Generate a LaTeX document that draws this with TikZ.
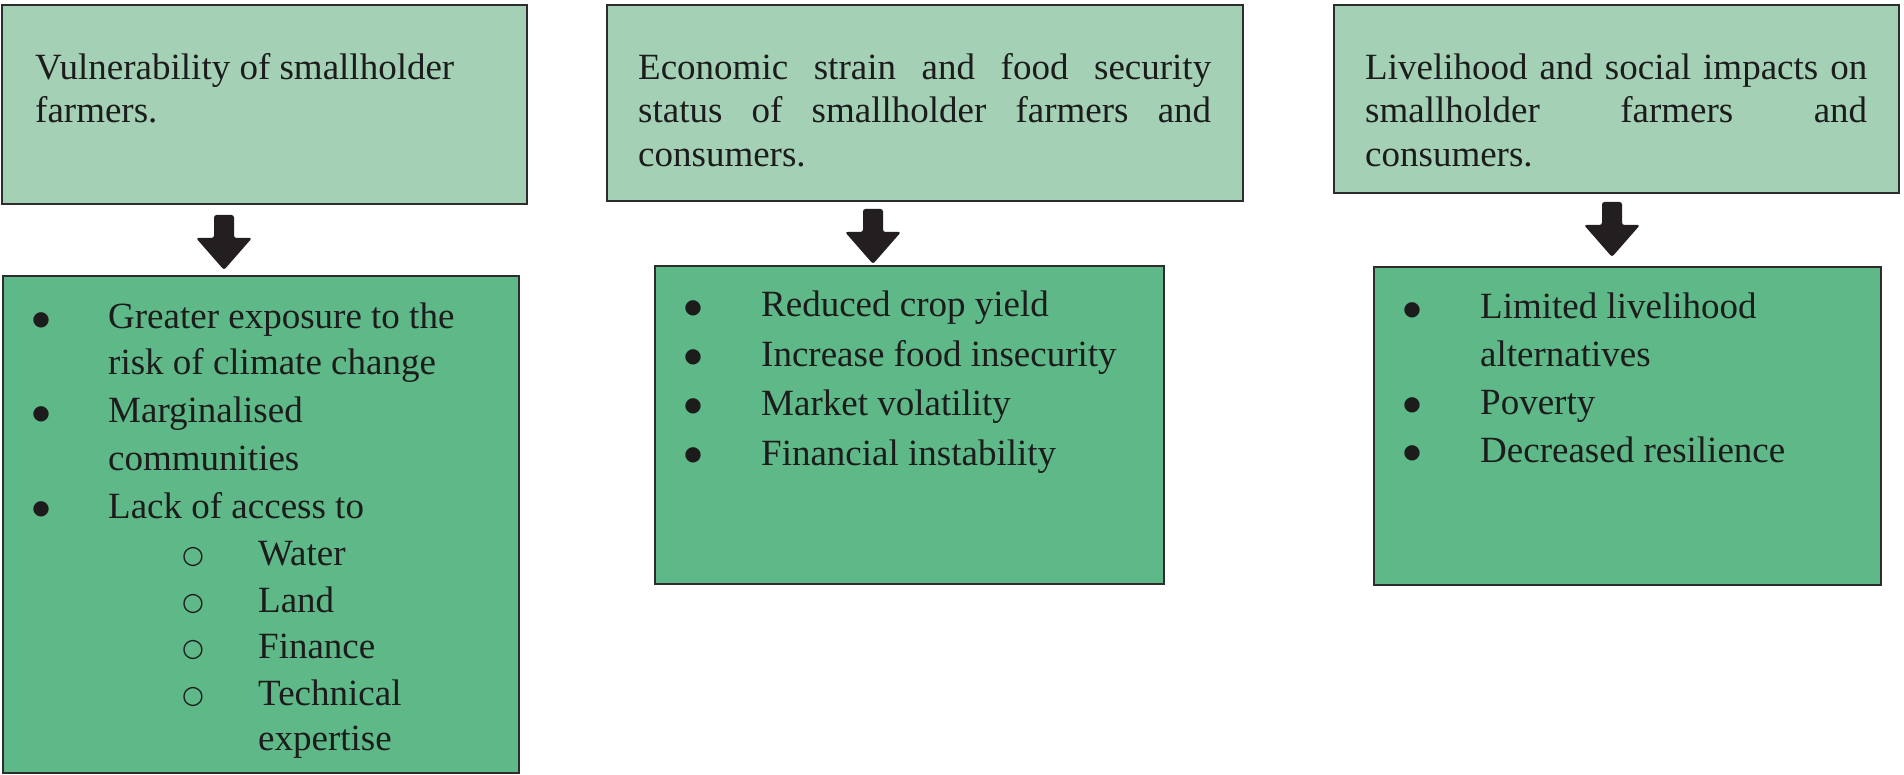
\documentclass[tikz,border=0pt]{standalone}
\usepackage{fontspec}
\setmainfont{Liberation Serif}
\newfontfamily\symfnt{DejaVu Sans}
\definecolor{topgreen}{RGB}{164,208,181}
\definecolor{botgreen}{RGB}{95,184,135}
\definecolor{edgec}{RGB}{45,45,45}
\definecolor{arrowc}{RGB}{35,31,32}
\definecolor{inkc}{RGB}{28,28,28}
\tikzset{
  topbox/.style={draw=edgec, line width=2.2pt, fill=topgreen, inner sep=0pt, anchor=north west},
  botbox/.style={draw=edgec, line width=2.2pt, fill=botgreen, inner sep=0pt, anchor=north west},
  txt/.style={inner sep=0pt, anchor=base west, text=inkc, font=\fontsize{37}{44}\selectfont},
  bul/.style={inner sep=0pt, anchor=center, text=inkc, font=\fontsize{20}{24}\symfnt},
  subbul/.style={inner sep=0pt, anchor=center, text=inkc, font=\fontsize{25}{30}\symfnt},
  blockarrow/.pic={\fill[arrowc, rounded corners=2.5pt] (-10,0) -- (10,0) -- (10,23) -- (28,23) -- (0,55) -- (-28,23) -- (-10,23) -- cycle;}
}
\begin{document}
\begin{tikzpicture}[x=1pt, y=-1pt]
\useasboundingbox (0,0) rectangle (1904,775);
\fill[white] (0,0) rectangle (1904,775);

% top boxes
\node[topbox, minimum width=525pt, minimum height=199pt] (t1) at (1,4) {};
\node[topbox, minimum width=636pt, minimum height=196pt] (t2) at (606,4) {};
\node[topbox, minimum width=565pt, minimum height=188pt] (t3) at (1333,4) {};

% bottom boxes
\node[botbox, minimum width=516pt, minimum height=497pt] (b1) at (2,275) {};
\node[botbox, minimum width=509pt, minimum height=318pt] (b2) at (654,265) {};
\node[botbox, minimum width=507pt, minimum height=318pt] (b3) at (1373,266) {};

% arrows
\pic (a1) at (224,215) {blockarrow};
\pic (a2) at (873,209) {blockarrow};
\pic (a3) at (1612,202) {blockarrow};

% top texts
\node[txt] (t1l1) at (35,80) {Vulnerability of smallholder};
\node[txt] (t1l2) at (35,123) {farmers.};

\node[txt] (t2l1) at (638,80) {\makebox[573pt][s]{Economic strain and food security}};
\node[txt] (t2l2) at (638,122.5) {\makebox[573pt][s]{status of smallholder farmers and}};
\node[txt] (t2l3) at (638,166.5) {consumers.};

\node[txt] (t3l1) at (1365,80) {\makebox[502pt][s]{Livelihood and social impacts on}};
\node[txt] (t3l2) at (1365,122.5) {\makebox[502pt][s]{smallholder farmers and}};
\node[txt] (t3l3) at (1365,166.5) {consumers.};

% bottom box 1
\node[bul] (b1b1) at (41,320) {●};
\node[txt] (b1l1) at (108,329) {Greater exposure to the};
\node[txt] (b1l2) at (108,375) {risk of climate change};
\node[bul] (b1b2) at (41,414) {●};
\node[txt] (b1l3) at (108,423) {Marginalised};
\node[txt] (b1l4) at (108,470) {communities};
\node[bul] (b1b3) at (41,509) {●};
\node[txt] (b1l5) at (108,518) {Lack of access to};
\node[subbul] (b1s1) at (193,557.5) {○};
\node[txt] (b1l6) at (258,565) {Water};
\node[subbul] (b1s2) at (193,604.5) {○};
\node[txt] (b1l7) at (258,612) {Land};
\node[subbul] (b1s3) at (193,650.5) {○};
\node[txt] (b1l8) at (258,658) {Finance};
\node[subbul] (b1s4) at (193,697.5) {○};
\node[txt] (b1l9) at (258,705) {Technical};
\node[txt] (b1l10) at (258,750) {expertise};

% bottom box 2
\node[bul] (b2b1) at (693,308) {●};
\node[txt] (b2l1) at (761,317) {Reduced crop yield};
\node[bul] (b2b2) at (693,357) {●};
\node[txt] (b2l2) at (761,367) {Increase food insecurity};
\node[bul] (b2b3) at (693,406) {●};
\node[txt] (b2l3) at (761,416) {Market volatility};
\node[bul] (b2b4) at (693,455) {●};
\node[txt] (b2l4) at (761,465) {Financial instability};

% bottom box 3
\node[bul] (b3b1) at (1412,310) {●};
\node[txt] (b3l1) at (1480,319) {Limited livelihood};
\node[txt] (b3l2) at (1480,367) {alternatives};
\node[bul] (b3b2) at (1412,405) {●};
\node[txt] (b3l3) at (1480,415) {Poverty};
\node[bul] (b3b3) at (1412,453) {●};
\node[txt] (b3l4) at (1480,463) {Decreased resilience};
\end{tikzpicture}
\end{document}
